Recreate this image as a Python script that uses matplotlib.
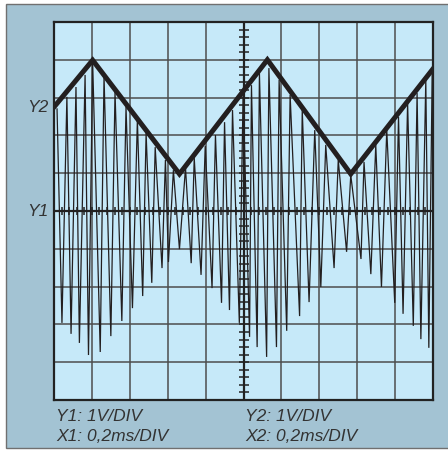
import numpy as np
import matplotlib.pyplot as plt
from matplotlib.patches import Rectangle

# ---------- data (in scope divisions: x 0..10, y -5..5) ----------
y2_x = [0.0, 1.02, 3.31, 5.63, 7.83, 10.0]
y2_y = [2.75, 3.99, 0.98, 4.0, 0.98, 3.76]

y1_x = [0.08, 0.21, 0.34, 0.45, 0.58, 0.67, 0.82, 0.91, 1.02, 1.22,
        1.32, 1.50, 1.61, 1.79, 1.90, 2.07, 2.20, 2.34, 2.43, 2.58,
        2.67, 2.85, 2.94, 3.02, 3.15, 3.31, 3.47, 3.62, 3.70, 3.88,
        3.99, 4.17, 4.26, 4.42, 4.50, 4.63, 4.71, 4.89, 4.99, 5.16,
        5.21, 5.36, 5.42, 5.61, 5.67, 5.87, 5.94, 6.14, 6.23, 6.48,
        6.55, 6.73, 6.88, 7.04, 7.17, 7.39, 7.50, 7.72, 7.83, 8.10,
        8.18, 8.36, 8.49, 8.64, 8.78, 8.99, 9.09, 9.21, 9.33, 9.48,
        9.58, 9.68, 9.81, 9.89, 9.98]
y1_y = [2.70, -2.96, 3.02, -3.25, 3.28, -3.49, 3.60, -3.81, 3.94, -3.73,
        3.57, -3.31, 3.15, -2.91, 2.75, -2.57, 2.41, -2.25, 2.06, -1.90,
        1.69, -1.51, 1.35, -1.35, 1.08, -1.01, 1.14, -1.38, 1.40, -1.69,
        1.72, -2.04, 2.01, -2.43, 2.35, -2.62, 2.67, -2.96, 3.12, -3.33,
        3.33, -3.60, 3.65, -3.86, 3.78, -3.60, 3.47, -3.17, 3.07, -2.78,
        2.67, -2.41, 2.14, -2.01, 1.75, -1.51, 1.35, -1.08, 0.95, -1.27,
        1.30, -1.67, 1.75, -2.01, 2.14, -2.43, 2.49, -2.72, 2.86, -3.04,
        3.12, -3.39, 3.47, -3.62, 3.73]

labels_left = ["Y1: 1V/DIV", "X1: 0,2ms/DIV"]
labels_right = ["Y2: 1V/DIV", "X2: 0,2ms/DIV"]

plt.rcParams['font.family'] = ['Liberation Sans', 'DejaVu Sans']

fig = plt.figure(figsize=(4.48, 4.5), dpi=100)
fig.patch.set_facecolor('white')

# blaagraa ramme rundt skjermen
fig.patches.append(Rectangle((6 / 448, 2 / 450), 1.0, 444 / 450,
                             transform=fig.transFigure, facecolor='#a3c3d3',
                             edgecolor='#707070', linewidth=1.0, zorder=-5))

ax = fig.add_axes([54 / 448, 50 / 450, 379 / 448, 378 / 450])
ax.set_zorder(2)
ax.set_facecolor('#c6e9f9')
ax.set_xlim(0, 10)
ax.set_ylim(-5, 5)
ax.set_xticks(range(11))
ax.set_yticks(range(-5, 6))
ax.tick_params(length=0, labelbottom=False, labelleft=False)
ax.grid(True, color='#4d4d4d', linewidth=1.1)
for s in ax.spines.values():
    s.set_color('#222222')
    s.set_linewidth(1.6)

# midtlinjer med smaa streker
ax.axhline(0, color='#222222', linewidth=1.6)
ax.axvline(5, color='#222222', linewidth=1.6)
fine = np.arange(0, 10.01, 0.2)
ax.plot(fine, np.zeros_like(fine), ls='none', marker='|', ms=6, mew=1.1, color='#222222')
ax.plot(np.full_like(fine, 5.0), fine - 5, ls='none', marker='_', ms=7, mew=1.1, color='#222222')

# signalene
ax.plot(y1_x, y1_y, color='#231f20', linewidth=0.9, solid_joinstyle='miter')
ax.plot(y2_x, y2_y, color='#231f20', linewidth=3.6, solid_joinstyle='miter')

ax.text(-0.15, 2.75, "Y2", ha='right', va='center', fontsize=12.5,
        style='italic', color='#333333')
ax.text(-0.15, 0.0, "Y1", ha='right', va='center', fontsize=12.5,
        style='italic', color='#333333')

for i, (l, r) in enumerate(zip(labels_left, labels_right)):
    yy = (450 - 421 - i * 20) / 450
    fig.text(56 / 448, yy, l, fontsize=12.5, style='italic', color='#333333', va='baseline')
    fig.text(245 / 448, yy, r, fontsize=12.5, style='italic', color='#333333', va='baseline')

fig.savefig('out.png', dpi=100)
